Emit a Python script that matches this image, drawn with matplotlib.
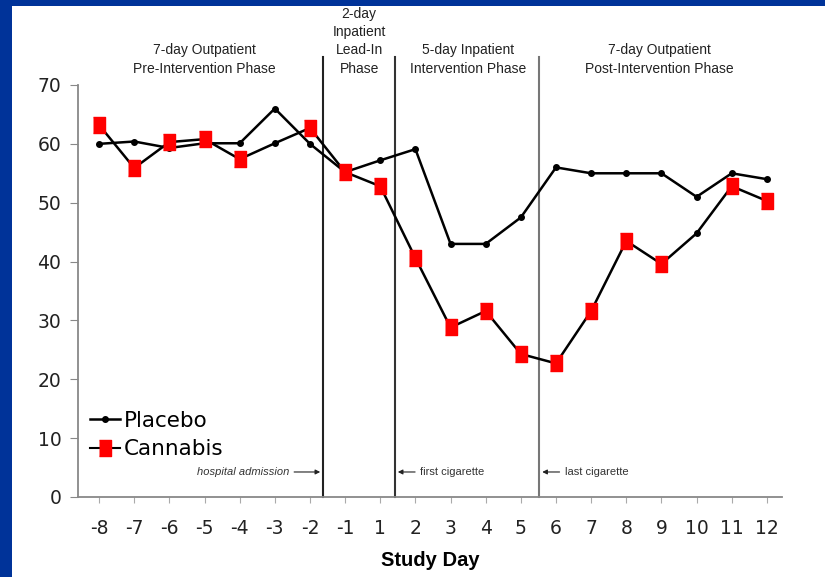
import numpy as np
import matplotlib
matplotlib.use("Agg")
import matplotlib.pyplot as plt
from matplotlib.patches import Rectangle

days = ["-8", "-7", "-6", "-5", "-4", "-3", "-2", "-1", "1", "2",
        "3", "4", "5", "6", "7", "8", "9", "10", "11", "12"]
placebo = [60, 60.4, 59.3, 60.1, 60.1, 66, 60, 55.2, 57.2, 59.1,
           43, 43, 47.5, 56, 55, 55, 55, 51, 55, 54]
cannabis = [63.2, 55.9, 60.3, 60.8, 57.4, 60.1, 62.7, 55.2, 52.8, 40.6,
            28.8, 31.6, 24.3, 22.7, 31.6, 43.5, 39.6, 44.8, 52.8, 50.3]
# cannabis points drawn without the red square in the original
no_square = ["-3", "10"]

phases = ["7-day Outpatient\nPre-Intervention Phase",
          "2-day\nInpatient\nLead-In\nPhase",
          "5-day Inpatient\nIntervention Phase",
          "7-day Outpatient\nPost-Intervention Phase"]
phase_lines = [6.37, 8.42, 12.53]
events = ["hospital admission", "first cigarette", "last cigarette"]

x = np.arange(len(days))

fig = plt.figure(figsize=(8.25, 5.77), dpi=100)
fig.patch.set_facecolor("#003399")
fig.patches.append(Rectangle((12 / 825, 0), 1, 1 - 6 / 577, transform=fig.transFigure,
                             facecolor="white", edgecolor="none", zorder=-10))
ax = fig.add_axes([78 / 825, 1 - 497 / 577, (782 - 78) / 825, (497 - 85) / 577])
ax.set_facecolor("white")

ax.plot(x, placebo, color="black", lw=1.8, marker="o", ms=4, label="Placebo", zorder=3)
ax.plot(x, cannabis, color="black", lw=1.8, marker="o", ms=4, zorder=3)
rect = [(-0.72, -1), (0.72, -1), (0.72, 1), (-0.72, 1)]
sq_idx = [i for i, d in enumerate(days) if d not in no_square]
ax.plot(x[sq_idx], np.array(cannabis)[sq_idx], ls="none", marker=rect, ms=12,
        color="#ff0000", mec="#ff0000", zorder=4)
# legend proxy
ax.plot([], [], color="black", lw=1.5, marker=rect, ms=12, mfc="#ff0000",
        mec="#ff0000", label="Cannabis")

ax.set_xlim(-0.6, 19.43)
ax.set_ylim(0, 70)
ax.set_xticks(x)
ax.set_xticklabels(days)
ax.set_yticks(range(0, 71, 10))
for s in ["top", "right"]:
    ax.spines[s].set_visible(False)
for s in ["left", "bottom"]:
    ax.spines[s].set_color("#888888")
    ax.spines[s].set_linewidth(1.3)
ax.tick_params(axis="y", length=6, pad=6, colors="#888888", labelcolor="#222222",
               labelsize=13.5)
ax.tick_params(axis="x", length=4, pad=12, colors="#aaaaaa", labelcolor="#222222",
               labelsize=13.5)
ax.set_xlabel("Study Day", fontsize=14.5, fontweight="bold", family="Liberation Sans",
              labelpad=9)

line_cols = ["#222222", "#333333", "#777777"]
for xv, c in zip(phase_lines, line_cols):
    ax.plot([xv, xv], [0, 74.8], color=c, lw=1.5, clip_on=False, zorder=2)

phase_x = [3.0, 7.4, 10.5, 15.95]
for t, px in zip(phases, phase_x):
    ax.text(px, 71.6, t, ha="center", va="bottom", fontsize=10, family="Liberation Sans",
            color="#222222", linespacing=1.38, clip_on=False)

ev_y = 4.25
ax.annotate("", xy=(phase_lines[0], ev_y), xytext=(phase_lines[0] - 0.9, ev_y),
            arrowprops=dict(arrowstyle="-|>", color="#222222", lw=0.8, mutation_scale=7))
ax.text(phase_lines[0] - 0.95, ev_y, events[0], ha="right", va="center", fontsize=8,
        style="italic", family="Liberation Sans", color="#333333")
for xv, t in zip(phase_lines[1:], events[1:]):
    ax.annotate("", xy=(xv, ev_y), xytext=(xv + 0.65, ev_y),
                arrowprops=dict(arrowstyle="-|>", color="#222222", lw=0.8, mutation_scale=7))
    ax.text(xv + 0.72, ev_y, t, ha="left", va="center", fontsize=8,
            family="Liberation Sans", color="#333333")

ax.legend(loc="lower left", bbox_to_anchor=(-0.005, 0.055), frameon=False, fontsize=15.5,
          handlelength=1.4, handletextpad=0.2, labelspacing=0.4, borderaxespad=0.3)

fig.savefig("out.png", dpi=100, facecolor=fig.get_facecolor())
